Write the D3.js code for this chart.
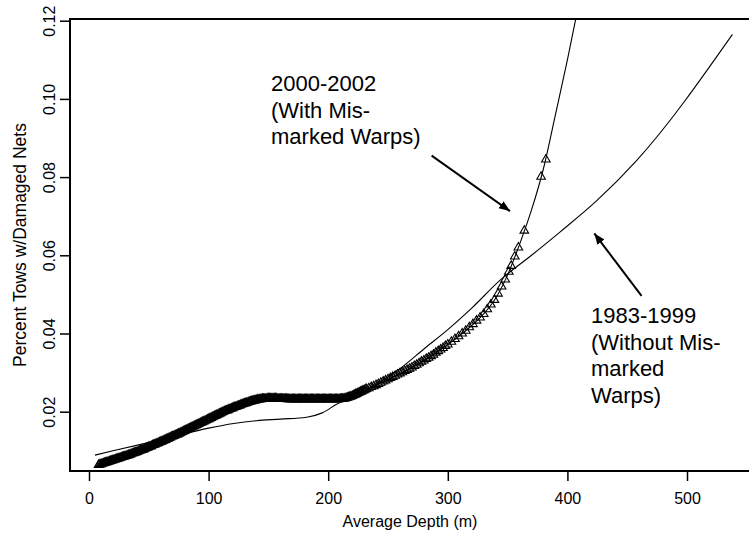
<!DOCTYPE html>
<html>
<head>
<meta charset="utf-8">
<script src="https://cdn.jsdelivr.net/npm/d3@7"></script>
<style>
body { margin: 0; background: #fff; }
text { font-family: "Liberation Sans", Arial, sans-serif; fill: #000; }
</style>
</head>
<body>
<svg width="749" height="539"></svg>
<script>
// 1983-1999 smooth (no markers)
var depthA = [5, 20, 47, 60, 79, 100, 121, 140, 160, 182, 195, 207, 218, 240, 260, 281, 300, 320, 344, 370, 394, 425, 458, 538]
var rateA  = [0.0089, 0.0100, 0.0119, 0.0128, 0.0143, 0.0158, 0.0170, 0.0177, 0.0181, 0.0186, 0.0197, 0.0219, 0.0235, 0.0270, 0.0310, 0.0363, 0.0410, 0.0465, 0.0537, 0.0600, 0.0660, 0.0741, 0.0843, 0.1165]

// 2000-2002 smooth line
var depthB = [8, 20, 40, 60, 80, 100, 120, 135, 145, 160, 180, 200, 212, 225, 240, 255, 270, 285, 300, 315, 330, 340, 350, 360, 370, 380, 390, 400, 410]
var rateB  = [0.0064, 0.0076, 0.0097, 0.0123, 0.0151, 0.0181, 0.0209, 0.0226, 0.0233, 0.0233, 0.0232, 0.0232, 0.0233, 0.0248, 0.0268, 0.0290, 0.0313, 0.0340, 0.0372, 0.0407, 0.0450, 0.0490, 0.0550, 0.0628, 0.0716, 0.0822, 0.0960, 0.1100, 0.1250]

// 2000-2002 tows (triangles)
var triDepth = [
  8,9,10,11,12,13,14,15,16,17,18,19,20,21,22,23,24,25,26,27,28,29,30,31,32,33,34,35,36,37,38,39,40,
  41,42,43,44,45,46,47,48,49,50,51,52,53,54,55,56,57,58,59,60,
  61,62,63,64,65,66,67,68,69,70,71,72,73,74,75,76,77,78,79,80,
  81,82,83,84,85,86,87,88,89,90,91,92,93,94,95,96,97,98,99,100,
  101,102,103,104,105,106,107,108,109,110,111,112,113,114,115,116,117,118,119,120,
  121,122,123,124,125,126,127,128,129,130,131,132,133,134,135,136,137,138,139,140,
  141,142,143,144,145,146,147,148,149,150,151,152,153,154,155,156,157,158,159,160,
  161,162,163,164,165,166,167,168,169,170,171,172,173,174,175,176,177,178,179,180,
  181,182,183,184,185,186,187,188,189,190,191,192,193,194,195,196,197,198,199,200,
  201,202,203,204,205,206,207,208,209,210,211,212,213,214,215,216,217,218,219,220,
  221,222,223,224,225,226,227,228,229,230,231,232,
  234,236,238,240,242,244,246,248,250,252,254,256,258,260,262,264,266,268,270,
  272,274,276,278,280,282,284,286,288,290,292,294,296,298,300,
  303,306,309,312,315,318,321,324,327,330,333,
  336,339,342,345,348,351,353,356,359,364,378,382]
var triRate = [
  0.0064,0.0065,0.0066,0.0067,0.0068,0.0069,0.0070,0.0071,0.0072,0.0073,0.0074,0.0075,0.0076,0.0077,0.0078,0.0079,0.0080,0.0081,0.0082,0.0083,0.0084,0.0085,0.0086,0.0087,0.0088,0.0089,0.0090,0.0091,0.0093,0.0094,0.0095,0.0096,0.0097,
  0.0098,0.0100,0.0101,0.0102,0.0103,0.0104,0.0106,0.0107,0.0108,0.0110,0.0111,0.0112,0.0114,0.0115,0.0116,0.0118,0.0119,0.0120,0.0122,0.0123,
  0.0124,0.0126,0.0127,0.0128,0.0130,0.0131,0.0133,0.0134,0.0136,0.0137,0.0138,0.0140,0.0141,0.0142,0.0144,0.0145,0.0147,0.0148,0.0150,0.0151,
  0.0153,0.0154,0.0156,0.0157,0.0159,0.0160,0.0162,0.0163,0.0165,0.0166,0.0168,0.0169,0.0171,0.0172,0.0174,0.0175,0.0177,0.0178,0.0180,0.0181,
  0.0183,0.0184,0.0186,0.0187,0.0189,0.0190,0.0192,0.0193,0.0195,0.0196,0.0198,0.0199,0.0201,0.0202,0.0203,0.0204,0.0206,0.0207,0.0208,0.0209,
  0.0211,0.0212,0.0213,0.0214,0.0215,0.0216,0.0218,0.0219,0.0220,0.0221,0.0222,0.0223,0.0224,0.0225,0.0226,0.0227,0.0228,0.0229,0.0229,0.0230,
  0.0231,0.0231,0.0232,0.0232,0.0233,0.0233,0.0233,0.0233,0.0234,0.0234,0.0234,0.0234,0.0234,0.0234,0.0234,0.0234,0.0234,0.0233,0.0233,0.0233,
  0.0233,0.0233,0.0233,0.0233,0.0233,0.0232,0.0232,0.0232,0.0232,0.0232,0.0232,0.0232,0.0232,0.0232,0.0232,0.0232,0.0232,0.0232,0.0232,0.0232,
  0.0232,0.0232,0.0232,0.0232,0.0232,0.0232,0.0232,0.0232,0.0232,0.0232,0.0232,0.0232,0.0232,0.0232,0.0232,0.0232,0.0232,0.0232,0.0232,0.0232,
  0.0232,0.0232,0.0232,0.0232,0.0232,0.0232,0.0232,0.0232,0.0232,0.0233,0.0233,0.0233,0.0233,0.0234,0.0235,0.0236,0.0237,0.0238,0.0239,0.0240,
  0.0242,0.0243,0.0245,0.0246,0.0248,0.0249,0.0251,0.0252,0.0254,0.0255,0.0257,0.0258,
  0.0260,0.0263,0.0265,0.0268,0.0271,0.0274,0.0277,0.0280,0.0283,0.0286,0.0289,0.0292,0.0295,0.0298,0.0301,0.0304,0.0307,0.0310,0.0313,
  0.0317,0.0320,0.0324,0.0328,0.0331,0.0335,0.0338,0.0342,0.0346,0.0351,0.0355,0.0359,0.0363,0.0368,0.0372,
  0.0379,0.0386,0.0393,0.0400,0.0407,0.0416,0.0424,0.0433,0.0441,0.0450,0.0462,
  0.0474,0.0486,0.0502,0.0520,0.0538,0.0558,0.0573,0.0597,0.0620,0.0663,0.0801,0.0845]

var xTicks = [0, 100, 200, 300, 400, 500]
var yTicks = [0.02, 0.04, 0.06, 0.08, 0.10, 0.12]

var labelB = ["2000-2002", "(With Mis-", "marked Warps)"]
var labelA = ["1983-1999", "(Without Mis-", "marked", "Warps)"]
// arrows in data units [depth, rate]
var arrowB = [[286.5, 0.0855], [352, 0.0713]]
var arrowA = [[462, 0.0496], [422.5, 0.0656]]

var box = {left: 70, right: 750, top: 19, bottom: 471}

var svg = d3.select("svg")

var xScale = d3.scaleLinear().domain([0, 500]).range([89, 687])
var yScale = d3.scaleLinear().domain([0.02, 0.12]).range([411.7, 20.7])

svg.append("defs").append("clipPath").attr("id", "plotclip")
  .append("rect")
  .attr("x", box.left).attr("y", box.top)
  .attr("width", box.right - box.left).attr("height", box.bottom - box.top)

svg.select("defs").append("marker")
  .attr("id", "head")
  .attr("viewBox", "0 0 10 10")
  .attr("refX", 10).attr("refY", 5)
  .attr("markerWidth", 11).attr("markerHeight", 11)
  .attr("markerUnits", "userSpaceOnUse")
  .attr("orient", "auto")
  .append("path").attr("d", "M0,1 L10,5 L0,9 z").attr("fill", "#000")

// axes
var xAxis = d3.axisBottom(xScale).tickValues(xTicks).tickSize(10).tickPadding(12).tickFormat(d3.format("d"))
var yAxis = d3.axisLeft(yScale).tickValues(yTicks).tickSize(10).tickFormat(d3.format(".2f"))

var gx = svg.append("g").attr("transform", "translate(0," + box.bottom + ")").call(xAxis)
gx.select(".domain").remove()
gx.selectAll("line").attr("stroke", "#000").attr("stroke-width", 1.5)
gx.selectAll("text").attr("font-size", 16).attr("font-family", "Liberation Sans, Arial, sans-serif")

var gy = svg.append("g").attr("transform", "translate(" + box.left + ",0)").call(yAxis)
gy.select(".domain").remove()
gy.selectAll("line").attr("stroke", "#000").attr("stroke-width", 1.5)
gy.selectAll("text")
  .attr("font-size", 16).attr("font-family", "Liberation Sans, Arial, sans-serif")
  .attr("x", null).attr("dy", null)
  .attr("text-anchor", "middle")
  .attr("transform", "translate(-15,0) rotate(-90)")

// frame (left, bottom, top)
svg.append("path")
  .attr("d", "M" + box.right + "," + box.top + "H" + box.left + "V" + box.bottom + "H" + box.right)
  .attr("fill", "none").attr("stroke", "#000").attr("stroke-width", 2)

// titles
svg.append("text").attr("x", (box.left + box.right) / 2).attr("y", 527)
  .attr("text-anchor", "middle").attr("font-size", 16).text("Average Depth (m)")
svg.append("text")
  .attr("transform", "translate(26," + (box.top + box.bottom) / 2 + ") rotate(-90)")
  .attr("text-anchor", "middle").attr("font-size", 17.5).text("Percent Tows w/Damaged Nets")

var plot = svg.append("g").attr("clip-path", "url(#plotclip)")

var lineA = d3.line().x(function(d, i) { return xScale(depthA[i]) }).y(function(d) { return yScale(d) }).curve(d3.curveMonotoneX)
var lineB = d3.line().x(function(d, i) { return xScale(depthB[i]) }).y(function(d) { return yScale(d) }).curve(d3.curveMonotoneX)

plot.append("path").datum(rateA).attr("d", lineA)
  .attr("fill", "none").attr("stroke", "#000").attr("stroke-width", 1.1)

plot.selectAll("path.tri")
  .data(triRate)
  .enter()
  .append("path")
  .attr("class", "tri")
  .attr("d", d3.symbol().type(d3.symbolTriangle).size(32))
  .attr("transform", function(d, i) { return "translate(" + xScale(triDepth[i]) + "," + yScale(d) + ")" })
  .attr("fill", "none").attr("stroke", "#000").attr("stroke-width", 1.1)

plot.append("path").datum(rateB).attr("d", lineB)
  .attr("fill", "none").attr("stroke", "#000").attr("stroke-width", 1.1)

// annotations
function drawLabel(lines, x, y) {
  svg.append("text").attr("x", x).attr("y", y).attr("font-size", 22)
    .selectAll("tspan").data(lines).enter().append("tspan")
    .attr("x", x).attr("dy", function(d, i) { return i == 0 ? 0 : 26.5 })
    .text(function(d) { return d })
}
drawLabel(labelB, 271, 91)
drawLabel(labelA, 591, 323)

function drawArrow(a) {
  svg.append("line")
    .attr("x1", xScale(a[0][0])).attr("y1", yScale(a[0][1]))
    .attr("x2", xScale(a[1][0])).attr("y2", yScale(a[1][1]))
    .attr("stroke", "#000").attr("stroke-width", 2)
    .attr("marker-end", "url(#head)")
}
drawArrow(arrowB)
drawArrow(arrowA)
</script>
</body>
</html>
